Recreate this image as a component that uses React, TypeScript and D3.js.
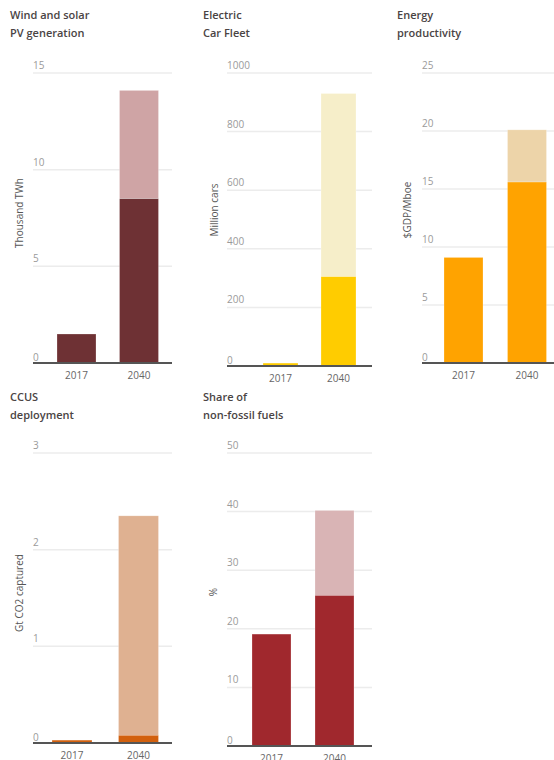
import React from 'react';
import * as d3 from 'd3';

// years shared by every panel
const years = ['2017', '2040'];

// lower (solid) segment and total height of each bar
const windSolarBase = [1.5, 8.5];
const windSolarTotal = [1.5, 14.1];
const carBase = [10, 305];
const carTotal = [10, 930];
const energyBase = [9.1, 15.6];
const energyTotal = [9.1, 20.1];
const ccusBase = [0.03, 0.08];
const ccusTotal = [0.03, 2.35];
const nonFossilBase = [19.1, 25.7];
const nonFossilTotal = [19.1, 40.2];

const windSolarTicks = [0, 5, 10, 15];
const carTicks = [0, 200, 400, 600, 800, 1000];
const energyTicks = [0, 5, 10, 15, 20, 25];
const ccusTicks = [0, 1, 2, 3];
const nonFossilTicks = [0, 10, 20, 30, 40, 50];

interface Panel {
  title: [string, string];
  unit: string;
  base: number[];
  total: number[];
  ticks: number[];
  dark: string;
  light: string;
  // layout
  tx: number; ty: number;
  gx0: number; gx1: number;
  top: number; bottom: number;
  c1: number; step: number; bw: number;
  ux: number; uy: number;
}

const panels: Panel[] = [
  {
    title: ['Wind and solar', 'PV generation'], unit: 'Thousand TWh',
    base: windSolarBase, total: windSolarTotal, ticks: windSolarTicks,
    dark: '#6e3134', light: '#cfa4a5',
    tx: 10, ty: 19, gx0: 33, gx1: 172, top: 73, bottom: 363,
    c1: 76.5, step: 62.5, bw: 39, ux: 20, uy: 213,
  },
  {
    title: ['Electric', 'Car Fleet'], unit: 'Million cars',
    base: carBase, total: carTotal, ticks: carTicks,
    dark: '#ffcc00', light: '#f6eec9',
    tx: 203, ty: 19, gx0: 227, gx1: 372, top: 73, bottom: 366,
    c1: 280.5, step: 58, bw: 35, ux: 215, uy: 210,
  },
  {
    title: ['Energy', 'productivity'], unit: '$GDP/Mboe',
    base: energyBase, total: energyTotal, ticks: energyTicks,
    dark: '#ffa300', light: '#edd4a9',
    tx: 397, ty: 19, gx0: 422, gx1: 554, top: 73, bottom: 363,
    c1: 463.5, step: 63.5, bw: 39, ux: 408, uy: 210,
  },
  {
    title: ['CCUS', 'deployment'], unit: 'Gt CO2 captured',
    base: ccusBase, total: ccusTotal, ticks: ccusTicks,
    dark: '#d2600e', light: '#dfb191',
    tx: 10, ty: 401, gx0: 33, gx1: 172, top: 453, bottom: 743,
    c1: 72, step: 66.5, bw: 40, ux: 20, uy: 593,
  },
  {
    title: ['Share of', 'non-fossil fuels'], unit: '%',
    base: nonFossilBase, total: nonFossilTotal, ticks: nonFossilTicks,
    dark: '#a0282d', light: '#d9b4b5',
    tx: 203, ty: 401, gx0: 227, gx1: 372, top: 453, bottom: 746,
    c1: 271.5, step: 63, bw: 39, ux: 214, uy: 592,
  },
];

const font = '"Open Sans", "Noto Sans", sans-serif';

const PanelChart: React.FC<{ p: Panel }> = ({ p }) => {
  const max = p.ticks[p.ticks.length - 1];
  const y = d3.scaleLinear().domain([0, max]).range([p.bottom, p.top]);
  const pi = 1 - p.bw / p.step;
  const x = d3.scaleBand<string>()
    .domain(years)
    .range([p.c1 - p.step / 2, p.c1 + (3 * p.step) / 2])
    .paddingInner(pi)
    .paddingOuter(pi / 2);

  return (
    <g>
      <text x={p.tx} y={p.ty} fontSize={11} fontWeight={600} fill="#4a4444">{p.title[0]}</text>
      <text x={p.tx} y={p.ty + 18} fontSize={11} fontWeight={600} fill="#4a4444">{p.title[1]}</text>

      {p.ticks.map(t => (
        <g key={t}>
          {t > 0 && (
            <line x1={p.gx0} x2={p.gx1} y1={y(t)} y2={y(t)} stroke="#ececec" strokeWidth={1.5} />
          )}
          <text x={p.gx0} y={y(t) - (t > 0 ? 4 : 2)} fontSize={10} fill="#9a9a9a">{t}</text>
        </g>
      ))}

      <text
        transform={`translate(${p.ux},${p.uy}) rotate(-90)`}
        textAnchor="middle" dominantBaseline="middle"
        fontSize={10} fill="#555"
      >{p.unit}</text>

      {years.map((yr, i) => (
        <g key={yr}>
          {p.total[i] > p.base[i] && (
            <rect
              x={x(yr)!} width={x.bandwidth()}
              y={y(p.total[i])} height={y(p.base[i]) - y(p.total[i])}
              fill={p.light} stroke="#fff" strokeOpacity={0.4} strokeWidth={0.6}
            />
          )}
          <rect
            x={x(yr)!} width={x.bandwidth()}
            y={y(p.base[i])} height={y(0) - y(p.base[i])}
            fill={p.dark} stroke="#fff" strokeOpacity={0.4} strokeWidth={0.6}
          />
          <text
            x={x(yr)! + x.bandwidth() / 2} y={y(0) + 16}
            textAnchor="middle" fontSize={10} fill="#666"
          >{yr}</text>
        </g>
      ))}

      <line x1={p.gx0} x2={p.gx1} y1={y(0)} y2={y(0)} stroke="#555" strokeWidth={2} />
    </g>
  );
};

export default function App() {
  return (
    <svg
      width={554} height={760}
      style={{ position: 'absolute', left: 0, top: 0, display: 'block', background: '#fff' }}
      fontFamily={font}
    >
      {panels.map((p, i) => <PanelChart key={i} p={p} />)}
    </svg>
  );
}
